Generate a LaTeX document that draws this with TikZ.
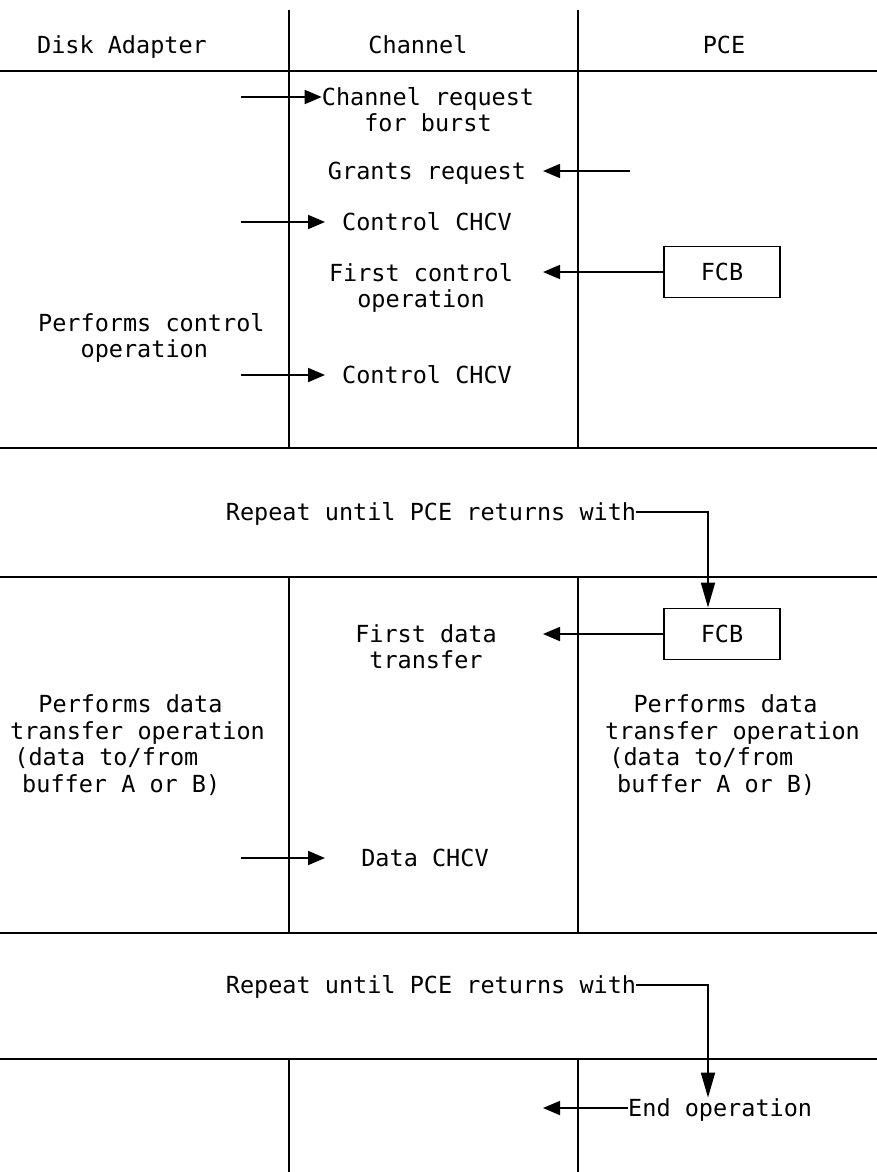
\documentclass[tikz,border=0pt]{standalone}
\usepackage{fontspec}
\newfontfamily\mono{DejaVu Sans Mono}
\usetikzlibrary{arrows.meta}
% indent by a number of monospace character cells
\newcommand\ind[1]{\hspace*{#1\fontcharwd\font`M}}
\begin{document}
\begin{tikzpicture}[x=1pt,y=-1pt,
  every node/.style={font=\mono\fontsize{23.5}{26.5}\selectfont, inner sep=0pt},
  txt/.style={align=center},
  ltxt/.style={align=left, anchor=west},
  fcbbox/.style={draw, line width=1.8pt, minimum width=116pt, minimum height=51pt},
  rule/.style={line width=2pt},
  lane/.style={line width=1.7pt},
  arr/.style={line width=1.8pt, -{Triangle[length=17pt,width=14pt]}},
  darr/.style={line width=1.8pt, -{Triangle[length=25pt,width=14pt]}},
]
\useasboundingbox (0,0) rectangle (877,1172);

% swimlane frame
\draw[rule] (0,71) -- (877,71);
\draw[rule] (0,448) -- (877,448);
\draw[rule] (0,577) -- (877,577);
\draw[rule] (0,933) -- (877,933);
\draw[rule] (0,1059) -- (877,1059);
\draw[lane] (289,10) -- (289,448);
\draw[lane] (578,10) -- (578,448);
\draw[lane] (289,577) -- (289,933);
\draw[lane] (578,577) -- (578,933);
\draw[lane] (289,1059) -- (289,1172);
\draw[lane] (578,1059) -- (578,1172);

% column headings
\node (hda) at (122,48) {\strut Disk Adapter};
\node (hch) at (418,48) {\strut Channel};
\node (hpce) at (724,48) {\strut PCE};

% arrow end columns
\coordinate (inR) at (325,0);
\coordinate (outL) at (543,0);

% control phase
\node[txt] (req) at (428,113) {\strut Channel request\\for burst\strut};
\node[txt] (grant) at (427,174) {\strut Grants request};
\node[txt] (ctl1) at (427,225) {\strut Control CHCV};
\node[txt] (fctl) at (421,289) {\strut First control\\operation\strut};
\node[fcbbox] (fcb1) at (722,272) {FCB};
\node[ltxt] (perfc) at (38,339) {\strut Performs control\\\ind{3}operation\strut};
\node[txt] (ctl2) at (427,378) {\strut Control CHCV};

\coordinate (r1) at (241,97);
\draw[arr] (r1) -- (r1 -| req.west);
\coordinate (g1) at (630,171);
\draw[arr] (g1) -- (g1 -| outL);
\coordinate (c1) at (241,222);
\draw[arr] (c1) -- (c1 -| inR);
\draw[arr] (fcb1.west) -- (fcb1.west -| outL);
\coordinate (c2) at (241,375);
\draw[arr] (c2) -- (c2 -| inR);

% first repeat
\node (rep1) at (431,515) {\strut Repeat until PCE returns with};
\coordinate (k1) at (708,512);

% data phase
\node[fcbbox] (fcb2) at (722,634) {FCB};
\node[txt] (fdata) at (426,650) {\strut First data\\transfer\strut};
\node[ltxt] (perfd1) at (10,747)
  {\strut\ind{2}Performs data\\transfer operation\\\ind{0.3}(data to/from\\\ind{0.85}buffer A or B)\strut};
\node[ltxt] (perfd2) at (605,747)
  {\strut\ind{2}Performs data\\transfer operation\\\ind{0.3}(data to/from\\\ind{0.85}buffer A or B)\strut};
\node[txt] (dchcv) at (425,861) {\strut Data CHCV};

\draw[darr] (rep1.east |- k1) -- (k1) -- (k1 |- fcb2.north);
\draw[arr] (fcb2.west) -- (fcb2.west -| outL);
\coordinate (d1) at (241,858);
\draw[arr] (d1) -- (d1 -| inR);

% second repeat and end
\node (rep2) at (431,988) {\strut Repeat until PCE returns with};
\coordinate (k2) at (708,985);
\node[ltxt] (endop) at (628,1111) {\strut End operation};

\draw[darr] (rep2.east |- k2) -- (k2) -- (k2 |- endop.north);
\draw[arr] ([yshift=3pt]endop.west) -- ([yshift=3pt]endop.west -| outL);
\end{tikzpicture}
\end{document}
